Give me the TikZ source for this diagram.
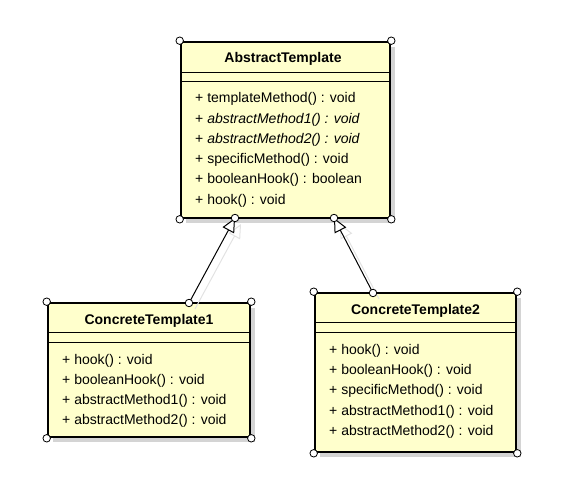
\documentclass[tikz,border=0pt]{standalone}
\usepackage{fontspec}
\setmainfont{Liberation Sans}
\usetikzlibrary{arrows.meta,calc}
\definecolor{classfill}{HTML}{FFFFCC}
\definecolor{shadowgray}{HTML}{D4D4D4}
\definecolor{lineshadow}{HTML}{E2E2E2}
\tikzset{
  classbox/.style={draw=black, line width=2.6pt, fill=classfill, inner sep=0pt},
  boxshadow/.style={fill=shadowgray, draw=none, inner sep=0pt},
  seprule/.style={line width=0.9pt},
  titletext/.style={font=\fontsize{14}{16}\selectfont\bfseries, inner sep=0pt},
  optext/.style={font=\fontsize{14}{16}\selectfont, inner sep=0pt, anchor=west, text height=10pt, text depth=3pt},
  handle/.style={circle, draw=black, fill=white, line width=0.8pt, minimum size=7.5pt, inner sep=0pt},
  genarrow/.style={line width=1pt, -{Triangle[open, length=14pt, width=13pt, fill=white]}},
  genshadow/.style={line width=1pt, draw=lineshadow, -{Triangle[open, length=14pt, width=13pt]}}
}
\begin{document}
\begin{tikzpicture}[x=1pt,y=-1pt]
\useasboundingbox (0,0) rectangle (566,478);

% ---------- AbstractTemplate ----------
\node[boxshadow, minimum width=209pt, minimum height=176pt] (absS) at (290.5,135) {};
\node[classbox, minimum width=209pt, minimum height=176pt] (abs) at (285.5,130) {};
\draw[seprule] (181,72) -- (390,72);
\draw[seprule] (181,81) -- (390,81);
\node[titletext] (absT) at (283,59) {AbstractTemplate};
\node[optext] (a1) at (195,99) {+ templateMethod() : void};
\node[optext] (a2) at (195,120) {+ \textit{abstractMethod1() : void}};
\node[optext] (a3) at (195,140) {+ \textit{abstractMethod2() : void}};
\node[optext] (a4) at (195,160) {+ specificMethod() : void};
\node[optext] (a5) at (195,180) {+ booleanHook() : boolean};
\node[optext] (a6) at (195,201) {+ hook() : void};

% ---------- ConcreteTemplate1 ----------
\node[boxshadow, minimum width=202pt, minimum height=134pt] (c1S) at (154,375) {};
\node[classbox, minimum width=202pt, minimum height=134pt] (c1) at (149,370) {};
\draw[seprule] (48,332) -- (250,332);
\draw[seprule] (48,342) -- (250,342);
\node[titletext] (c1T) at (149,321) {ConcreteTemplate1};
\node[optext] (b1) at (62,361) {+ hook() : void};
\node[optext] (b2) at (62,381) {+ booleanHook() : void};
\node[optext] (b3) at (62,401) {+ abstractMethod1() : void};
\node[optext] (b4) at (62,421) {+ abstractMethod2() : void};

% ---------- ConcreteTemplate2 ----------
\node[boxshadow, minimum width=201pt, minimum height=159pt] (c2S) at (420.5,377.5) {};
\node[classbox, minimum width=201pt, minimum height=159pt] (c2) at (415.5,372.5) {};
\draw[seprule] (315,322) -- (516,322);
\draw[seprule] (315,332) -- (516,332);
\node[titletext] (c2T) at (415.5,311) {ConcreteTemplate2};
\node[optext] (d1) at (329,351) {+ hook() : void};
\node[optext] (d2) at (329,371) {+ booleanHook() : void};
\node[optext] (d3) at (329,391) {+ specificMethod() : void};
\node[optext] (d4) at (329,412) {+ abstractMethod1() : void};
\node[optext] (d5) at (329,432) {+ abstractMethod2() : void};

% ---------- generalization connectors ----------
\coordinate (pA1) at (235,218);
\coordinate (pA2) at (334,218);
\coordinate (pC1) at (189,303);
\coordinate (pC2) at (373,293);
\coordinate (sA1) at (241,224);
\coordinate (sA2) at (340,224);
\coordinate (sC1) at (195,309);
\coordinate (sC2) at (379,299);
\draw[genshadow] (sC1) -- (sA1);
\draw[genshadow] (sC2) -- (sA2);
\draw[genarrow] (pC1) -- (pA1);
\draw[genarrow] (pC2) -- (pA2);

% ---------- selection handles ----------
\foreach \p in {abs.north west, abs.north east, abs.south west, abs.south east,
                c1.north west, c1.north east, c1.south west, c1.south east,
                c2.north west, c2.north east, c2.south west, c2.south east,
                pA1, pA2, pC1, pC2}
  \node[handle] at (\p) {};
\end{tikzpicture}
\end{document}
